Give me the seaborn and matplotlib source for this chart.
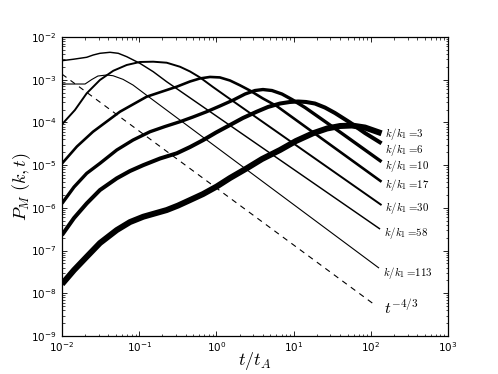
import numpy as np
import pandas as pd
import matplotlib
matplotlib.use('Agg')
import matplotlib.pyplot as plt
import seaborn as sns

# P_M(k,t) curves, one pair of lists per k/k1
t_3 = [0.01, 0.0143, 0.0209, 0.031, 0.0512, 0.076, 0.113, 0.227, 0.318, 0.455, 0.670,
       1.01, 1.50, 2.47, 3.90, 6.67, 10.7, 17.8, 27.1, 39.9, 57.0, 84.1, 138]
P_3 = [1.64e-8, 3.49e-8, 7.16e-8, 1.50e-7, 3.02e-7, 4.65e-7, 6.20e-7, 8.88e-7, 1.13e-6, 1.52e-6, 2.10e-6,
       3.16e-6, 4.99e-6, 8.41e-6, 1.39e-5, 2.26e-5, 3.66e-5, 5.56e-5, 7.20e-5, 8.24e-5, 8.46e-5, 7.60e-5, 5.56e-5]

t_6 = [0.01, 0.0143, 0.0209, 0.031, 0.0512, 0.076, 0.113, 0.186, 0.306, 0.455, 0.676, 0.989,
       1.50, 2.21, 3.33, 4.66, 6.67, 8.98, 11.4, 14.5, 18.9, 25.5, 34.4, 53.8, 84.1, 138]
P_6 = [2.31e-7, 5.77e-7, 1.27e-6, 2.61e-6, 4.91e-6, 7.28e-6, 1.00e-5, 1.43e-5, 1.89e-5, 2.65e-5, 3.87e-5, 5.80e-5,
       8.69e-5, 1.27e-4, 1.78e-4, 2.30e-4, 2.77e-4, 3.01e-4, 3.09e-4, 3.01e-4, 2.77e-4, 2.23e-4, 1.66e-4, 9.95e-5, 5.65e-5, 3.24e-5]

t_10 = [0.01, 0.0143, 0.0209, 0.031, 0.0512, 0.0832, 0.138, 0.216, 0.338, 0.498, 0.748, 1.11,
        1.66, 2.35, 3.16, 4.01, 5.25, 7.08, 9.53, 14.1, 22.0, 39.9, 138]
P_10 = [1.27e-6, 3.07e-6, 6.43e-6, 1.10e-5, 2.26e-5, 3.87e-5, 6.05e-5, 8.02e-5, 1.04e-4, 1.34e-4, 1.78e-4, 2.42e-4,
        3.35e-4, 4.62e-4, 5.58e-4, 5.89e-4, 5.58e-4, 4.62e-4, 3.44e-4, 2.23e-4, 1.27e-4, 5.96e-5, 1.20e-5]

t_17 = [0.01, 0.0156, 0.0252, 0.0563, 0.125, 0.306, 0.455, 0.613, 0.826, 1.11, 1.50, 2.02,
        2.72, 4.01, 6.04, 138]
P_17 = [1.09e-5, 2.73e-5, 6.05e-5, 1.78e-4, 4.00e-4, 6.85e-4, 9.08e-4, 1.07e-3, 1.16e-3, 1.13e-3, 9.58e-4, 7.40e-4,
        5.58e-4, 3.63e-4, 2.42e-4, 4.08e-6]

t_30 = [0.01, 0.0147, 0.0209, 0.031, 0.0462, 0.0689, 0.102, 0.152, 0.227, 0.338, 0.455, 0.613,
        0.903, 1.36, 138]
P_30 = [9.03e-5, 1.95e-4, 4.81e-4, 9.84e-4, 1.62e-3, 2.21e-3, 2.60e-3, 2.64e-3, 2.50e-3, 2.01e-3, 1.56e-3, 1.13e-3,
        6.75e-4, 4.00e-4, 1.16e-6]

t_58 = [0.01, 0.0140, 0.0209, 0.0254, 0.031, 0.0419, 0.0536, 0.0689, 0.102, 0.152, 0.227, 132]
P_58 = [2.79e-3, 3.01e-3, 3.35e-3, 3.79e-3, 4.15e-3, 4.38e-3, 4.15e-3, 3.46e-3, 2.42e-3, 1.54e-3, 8.97e-4, 3.19e-7]

t_113 = [0.01, 0.0199, 0.0243, 0.0292, 0.0379, 0.0458, 0.0617, 0.0832, 0.126, 128]
P_113 = [7.93e-4, 7.93e-4, 1.01e-3, 1.22e-3, 1.29e-3, 1.24e-3, 1.02e-3, 7.50e-4, 4.27e-4, 3.89e-8]

# reference slope t^{-4/3}
t_ref = [0.01, 117]
P_ref = [1.35e-3, 5.1e-9]

ratios = [3, 6, 10, 17, 30, 58, 113]
curves = [(t_3, P_3), (t_6, P_6), (t_10, P_10), (t_17, P_17),
          (t_30, P_30), (t_58, P_58), (t_113, P_113)]
widths = [4.3, 2.9, 2.4, 1.9, 1.4, 1.05, 0.8]
label_dy = [-0.3, -4.6, -2.8, -2.4, -2.4, -3.0, -3.3]

sns.set_style('ticks')
plt.rcParams.update({
    'font.family': ['DejaVu Sans'],
    'mathtext.fontset': 'cm',
    'axes.edgecolor': 'black',
    'axes.linewidth': 0.9,
    'xtick.color': 'black',
    'ytick.color': 'black',
    'text.color': 'black',
    'axes.labelcolor': 'black',
    'xtick.direction': 'in',
    'ytick.direction': 'in',
    'xtick.top': True,
    'ytick.right': True,
})

fig = plt.figure(figsize=(4.98, 3.74), dpi=100)
ax = fig.add_axes([0.1245, 0.1016, 0.775, 0.7995])
ax.set_xscale('log')
ax.set_yscale('log')

for r, (t, P), lw, dy in zip(ratios, curves, widths, label_dy):
    df = pd.DataFrame({'t': t, 'P': P})
    sns.lineplot(data=df, x='t', y='P', ax=ax, color='black', lw=lw,
                 sort=False, estimator=None,
                 solid_capstyle='butt', solid_joinstyle='round')
    ax.annotate(r'$k/k_1 =\!%d$' % r, xy=(t[-1], P[-1]), xytext=(2.5, dy),
                textcoords='offset points', ha='left', va='center', fontsize=7.8)

ref = pd.DataFrame({'t': t_ref, 'P': P_ref})
sns.lineplot(data=ref, x='t', y='P', ax=ax, color='black', lw=0.8,
             sort=False, estimator=None, linestyle=(0, (5, 4.5)))
ax.annotate(r'$t^{-4/3}$', xy=(t_ref[-1], P_ref[-1]), xytext=(6, -1),
            textcoords='offset points', ha='left', va='center', fontsize=11.5)

ax.set_xlim(1e-2, 1e3)
ax.set_ylim(1e-9, 1e-2)
ax.tick_params(which='major', length=3.5, width=0.6, labelsize=7.5)
ax.tick_params(which='minor', length=1.8, width=0.5)
ax.tick_params(axis='x', which='major', pad=3)
ax.tick_params(axis='y', which='major', pad=4)
ax.set_xlabel(r'$t/t_A$', fontsize=13, labelpad=-2.5)
ax.set_ylabel(r'$P_M\ (k,t)$', fontsize=13, labelpad=-1.5)

fig.savefig('out.png', dpi=100)
